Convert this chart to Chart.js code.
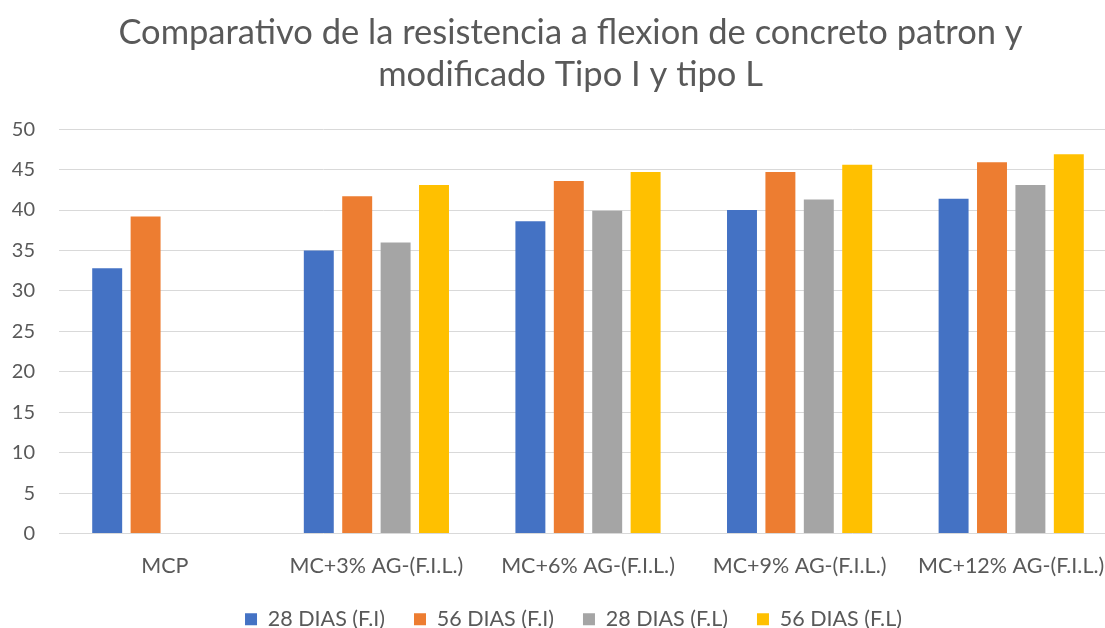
<!DOCTYPE html>
<html>
<head>
<meta charset="utf-8">
<script src="https://cdn.jsdelivr.net/npm/chart.js@4"></script>
<style>
  html, body { margin: 0; padding: 0; background: #fff; overflow: hidden; }
  #wrap { width: 1142px; height: 628px; }
</style>
</head>
<body>
<div id="wrap"><canvas id="grafico" width="1142" height="628"></canvas></div>
<script>
// dati
const categorias = ['MCP', 'MC+3% AG-(F.I.L.)', 'MC+6% AG-(F.I.L.)', 'MC+9% AG-(F.I.L.)', 'MC+12% AG-(F.I.L.)'];
const dias28FI = [32.8, 35.0, 38.6, 40.0, 41.4];
const dias56FI = [39.2, 41.7, 43.6, 44.7, 45.9];
const dias28FL = [null, 36.0, 39.9, 41.3, 43.1];
const dias56FL = [null, 43.1, 44.7, 45.6, 46.9];
const yTicks = [0, 5, 10, 15, 20, 25, 30, 35, 40, 45, 50];

const titulo = ['Comparativo de la resistencia a flexion de concreto patron y', 'modificado Tipo I y tipo L'];

const fuente = 'Lato, "Open Sans", sans-serif';
const gris = '#595959';

// titolo e legenda centrati sulla tela intera, non sull'area con padding
const centraTesti = {
  id: 'centraTesti',
  afterLayout(chart) {
    chart.titleBlock.left += 12;
    chart.titleBlock.right += 12;
    chart.legend.left += 15;
    chart.legend.right += 15;
  }
};

document.addEventListener('DOMContentLoaded', function() {
  var ctx = document.getElementById('grafico').getContext('2d');
  new Chart(ctx, {
    type: 'bar',
    data: {
      labels: categorias,
      datasets: [
        { label: '28 DIAS (F.I)', data: dias28FI, backgroundColor: '#4472c4' },
        { label: '56 DIAS (F.I)', data: dias56FI, backgroundColor: '#ed7d31' },
        { label: '28 DIAS (F.L)', data: dias28FL, backgroundColor: '#a5a5a5' },
        { label: '56 DIAS (F.L)', data: dias56FL, backgroundColor: '#ffc000' }
      ]
    },
    plugins: [centraTesti],
    options: {
      responsive: false,
      animation: false,
      categoryPercentage: 0.726,
      barPercentage: 0.78,
      layout: { padding: { left: 0, right: 25, top: 0, bottom: -12 } },
      plugins: {
        tooltip: { enabled: false },
        title: {
          display: true,
          text: titulo,
          color: gris,
          font: { family: fuente, size: 34.5, weight: 'normal', lineHeight: 1.22 },
          padding: { top: 12, bottom: 33 }
        },
        legend: {
          position: 'bottom',
          labels: {
            color: gris,
            font: { family: fuente, size: 21.5 },
            boxWidth: 12,
            boxHeight: 12,
            padding: 29
          }
        }
      },
      scales: {
        x: {
          afterFit: function(scale) { scale.height = 46; },
          grid: { display: false, drawTicks: false },
          border: { display: false },
          ticks: {
            color: gris,
            font: { family: fuente, size: 21.5 },
            padding: 20,
            maxRotation: 0,
            autoSkip: false
          }
        },
        y: {
          min: 0,
          max: 50,
          afterFit: function(scale) { scale.width = 59; },
          afterBuildTicks: function(scale) {
            scale.ticks = yTicks.map(v => ({ value: v }));
          },
          grid: { color: '#d9d9d9', lineWidth: 1, drawTicks: false },
          border: { display: false },
          ticks: {
            color: gris,
            font: { family: fuente, size: 20 },
            padding: 24
          }
        }
      }
    }
  });
});
</script>
</body>
</html>
